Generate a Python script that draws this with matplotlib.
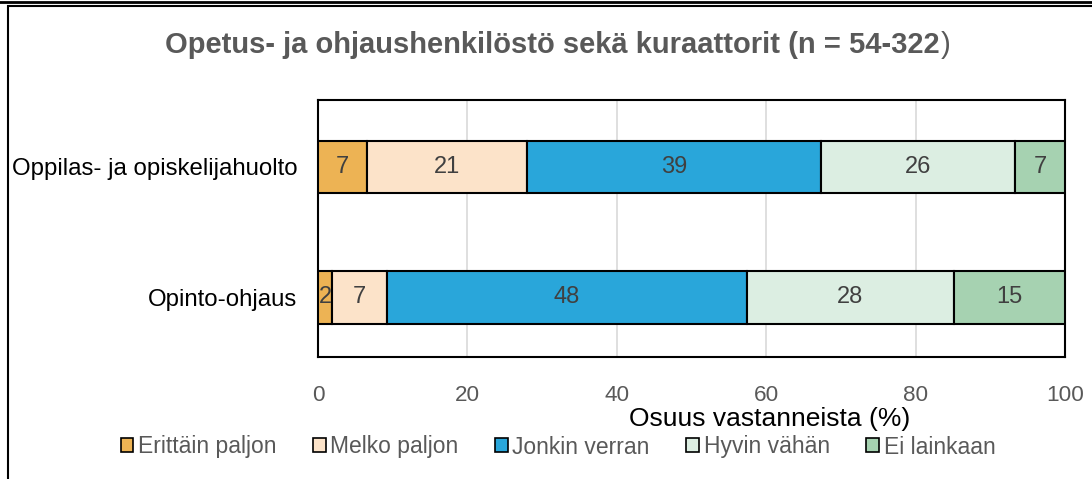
import numpy as np
import matplotlib.pyplot as plt
from matplotlib.patches import Rectangle, Patch

plt.rcParams['font.family'] = ['Liberation Sans', 'DejaVu Sans']

# ── Data ──────────────────────────────────────────────────────────────────────
categories = ["Oppilas- ja opiskelijahuolto", "Opinto-ohjaus"]
series = ["Erittäin paljon", "Melko paljon", "Jonkin verran", "Hyvin vähän", "Ei lainkaan"]
values = {
    "Erittäin paljon": [6.6, 1.9],
    "Melko paljon":    [21.4, 7.3],
    "Jonkin verran":   [39.4, 48.2],
    "Hyvin vähän":     [25.9, 27.7],
    "Ei lainkaan":     [6.7, 14.9],
}
labels = {
    "Erittäin paljon": [7, 2],
    "Melko paljon":    [21, 7],
    "Jonkin verran":   [39, 48],
    "Hyvin vähän":     [26, 28],
    "Ei lainkaan":     [7, 15],
}
colors = ["#EDB354", "#FCE3C9", "#29A6DA", "#DCEEE2", "#A6D2B1"]
xticks = [0, 20, 40, 60, 80, 100]

# ── Figure ────────────────────────────────────────────────────────────────────
fig = plt.figure(figsize=(10.92, 4.79), dpi=100)
W, H = 1092, 479
ax = fig.add_axes([318 / W, 1 - 357 / H, (1065 - 318) / W, (357 - 100) / H])

ypos = np.array([1, 0])
left = np.zeros(len(categories))
for s, c in zip(series, colors):
    v = np.array(values[s])
    ax.barh(ypos, v, left=left, height=0.40, color=c, edgecolor='black', linewidth=1.5, zorder=3)
    for y, l, val, lab in zip(ypos, left, v, labels[s]):
        ax.text(l + val / 2, y, str(lab), ha='center', va='center',
                fontsize=17, color='#404040', zorder=4)
    left += v

ax.set_xlim(0, 100)
ax.set_ylim(-0.455, 1.51)
ax.set_xticks(xticks)
ax.set_yticks(ypos)
ax.set_yticklabels(categories, fontsize=17.3, color='black')
ax.tick_params(axis='x', length=0, labelsize=16.2, labelcolor='#595959', pad=20)
ax.tick_params(axis='y', length=0, pad=15)
ax.grid(axis='x', color='#D9D9D9', linewidth=1.2, zorder=0)
ax.set_axisbelow(True)
for sp in ax.spines.values():
    sp.set_linewidth(1.5)
    sp.set_color('black')

fig.text(770 / W, 1 - 419 / H, "Osuus vastanneista (%)", ha='center', va='center',
         fontsize=19, color='black')

# Title: bold part + normal closing bracket
t = fig.text(165 / W, 1 - 45 / H, "Opetus- ja ohjaushenkilöstö sekä kuraattorit (n = 54-322",
             ha='left', va='center', fontsize=21, fontweight='bold', color='#595959')
ax.annotate(")", xy=(1, 0.5), xycoords=t, xytext=(1, 0), textcoords='offset points',
            ha='left', va='center', fontsize=21, color='#595959', annotation_clip=False)

# Legend
handles = [Patch(facecolor=c, edgecolor='black', linewidth=1.2) for c in colors]
fig.legend(handles, series, loc='center', bbox_to_anchor=(558 / W, 1 - 447 / H), ncol=5,
           frameon=False, fontsize=16.5, labelcolor='#595959', handlelength=0.55, handleheight=0.55,
           handletextpad=0.2, columnspacing=1.6)

# Outer borders
fig.add_artist(plt.Line2D([0, 1], [1 - 1.5 / H, 1 - 1.5 / H], color='black', lw=2, transform=fig.transFigure))
fig.add_artist(Rectangle((8 / W, -0.1), 1.2, 1 + 0.1 - 6.5 / H, fill=False, edgecolor='black',
                         lw=1.5, transform=fig.transFigure))

fig.savefig("out.png", dpi=100)
